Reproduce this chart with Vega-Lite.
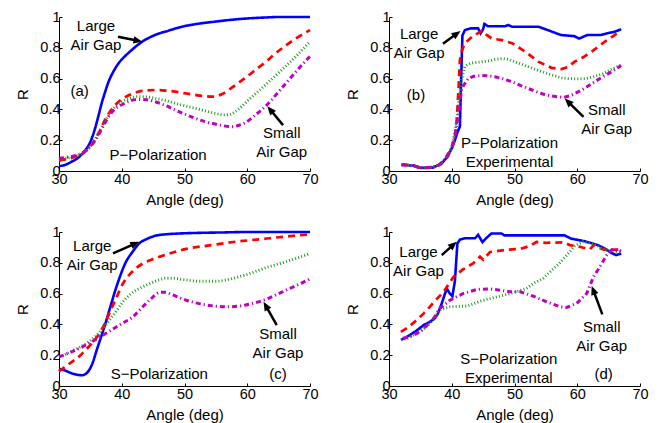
{
  "$schema": "https://vega.github.io/schema/vega-lite/v6.json",
  "padding": {"left": 15, "top": 9, "right": 5, "bottom": 5},
  "background": "white",
  "config": {
    "view": {"stroke": null},
    "font": "Liberation Sans",
    "axis": {
      "domainColor": "black", "domainWidth": 1, "tickColor": "black", "tickSize": -3, "tickWidth": 1,
      "grid": false, "labelFont": "Liberation Sans", "labelFontSize": 14.5, "labelColor": "black",
      "titleFont": "Liberation Sans", "titleFontSize": 15, "titleFontWeight": "normal", "titleColor": "black",
      "labelFlush": false, "labelOverlap": false
    }
  },
  "datasets": {
    "a": [
      {"s":"b","x":30,"R":0.032},{"s":"b","x":31,"R":0.04},{"s":"b","x":32,"R":0.06},{"s":"b","x":33,"R":0.085},{"s":"b","x":34,"R":0.125},{"s":"b","x":35,"R":0.19},{"s":"b","x":35.7,"R":0.27},{"s":"b","x":36.3,"R":0.36},{"s":"b","x":36.8,"R":0.44},{"s":"b","x":37.4,"R":0.52},{"s":"b","x":37.9,"R":0.58},{"s":"b","x":38.6,"R":0.64},{"s":"b","x":39.5,"R":0.7},{"s":"b","x":40.5,"R":0.745},{"s":"b","x":41.6,"R":0.786},{"s":"b","x":43.2,"R":0.838},{"s":"b","x":45.3,"R":0.883},{"s":"b","x":47.5,"R":0.912},{"s":"b","x":49.6,"R":0.937},{"s":"b","x":52,"R":0.955},{"s":"b","x":54.9,"R":0.97},{"s":"b","x":57.5,"R":0.982},{"s":"b","x":60.2,"R":0.991},{"s":"b","x":63,"R":0.997},{"s":"b","x":65,"R":1.0},{"s":"b","x":70,"R":1.0},
      {"s":"r","x":30,"R":0.067},{"s":"r","x":31,"R":0.075},{"s":"r","x":32,"R":0.085},{"s":"r","x":33,"R":0.1},{"s":"r","x":34,"R":0.12},{"s":"r","x":35,"R":0.16},{"s":"r","x":35.8,"R":0.21},{"s":"r","x":36.5,"R":0.26},{"s":"r","x":37.3,"R":0.33},{"s":"r","x":38.2,"R":0.39},{"s":"r","x":39,"R":0.43},{"s":"r","x":40,"R":0.465},{"s":"r","x":41.3,"R":0.495},{"s":"r","x":42.7,"R":0.515},{"s":"r","x":44,"R":0.523},{"s":"r","x":45.3,"R":0.526},{"s":"r","x":47,"R":0.522},{"s":"r","x":48.5,"R":0.515},{"s":"r","x":50,"R":0.505},{"s":"r","x":51.7,"R":0.494},{"s":"r","x":53,"R":0.487},{"s":"r","x":54.4,"R":0.483},{"s":"r","x":55.3,"R":0.488},{"s":"r","x":56,"R":0.5},{"s":"r","x":57,"R":0.525},{"s":"r","x":58.1,"R":0.558},{"s":"r","x":59.7,"R":0.605},{"s":"r","x":61.3,"R":0.656},{"s":"r","x":63,"R":0.71},{"s":"r","x":64.5,"R":0.764},{"s":"r","x":66,"R":0.81},{"s":"r","x":67.7,"R":0.86},{"s":"r","x":70,"R":0.915},
      {"s":"g","x":30,"R":0.075},{"s":"g","x":31,"R":0.08},{"s":"g","x":32,"R":0.09},{"s":"g","x":33,"R":0.1},{"s":"g","x":34,"R":0.12},{"s":"g","x":35,"R":0.16},{"s":"g","x":35.8,"R":0.21},{"s":"g","x":36.5,"R":0.26},{"s":"g","x":37.3,"R":0.32},{"s":"g","x":38.2,"R":0.38},{"s":"g","x":39,"R":0.42},{"s":"g","x":40,"R":0.45},{"s":"g","x":41.3,"R":0.472},{"s":"g","x":42.7,"R":0.483},{"s":"g","x":44,"R":0.481},{"s":"g","x":45.3,"R":0.472},{"s":"g","x":47,"R":0.457},{"s":"g","x":48.5,"R":0.44},{"s":"g","x":50,"R":0.424},{"s":"g","x":51.7,"R":0.407},{"s":"g","x":53.3,"R":0.39},{"s":"g","x":54.9,"R":0.374},{"s":"g","x":56.5,"R":0.364},{"s":"g","x":57.3,"R":0.368},{"s":"g","x":58.1,"R":0.385},{"s":"g","x":59,"R":0.415},{"s":"g","x":60.2,"R":0.461},{"s":"g","x":62.3,"R":0.537},{"s":"g","x":64,"R":0.6},{"s":"g","x":65.5,"R":0.656},{"s":"g","x":67.7,"R":0.742},{"s":"g","x":70,"R":0.84},
      {"s":"m","x":30,"R":0.082},{"s":"m","x":31,"R":0.088},{"s":"m","x":32,"R":0.095},{"s":"m","x":33,"R":0.105},{"s":"m","x":34,"R":0.125},{"s":"m","x":35,"R":0.16},{"s":"m","x":35.8,"R":0.2},{"s":"m","x":36.5,"R":0.25},{"s":"m","x":37.3,"R":0.31},{"s":"m","x":38.2,"R":0.37},{"s":"m","x":39,"R":0.405},{"s":"m","x":40,"R":0.43},{"s":"m","x":41.3,"R":0.455},{"s":"m","x":42.7,"R":0.465},{"s":"m","x":44,"R":0.463},{"s":"m","x":45.3,"R":0.45},{"s":"m","x":47,"R":0.425},{"s":"m","x":48.5,"R":0.396},{"s":"m","x":50,"R":0.37},{"s":"m","x":51.7,"R":0.342},{"s":"m","x":53.3,"R":0.32},{"s":"m","x":54.9,"R":0.305},{"s":"m","x":56.3,"R":0.293},{"s":"m","x":57.6,"R":0.288},{"s":"m","x":58.7,"R":0.297},{"s":"m","x":59.7,"R":0.314},{"s":"m","x":61.3,"R":0.364},{"s":"m","x":63.4,"R":0.44},{"s":"m","x":65,"R":0.515},{"s":"m","x":66.6,"R":0.59},{"s":"m","x":68.2,"R":0.665},{"s":"m","x":70,"R":0.745}
    ],
    "b": [
      {"s":"b","x":32,"R":0.04},{"s":"b","x":33,"R":0.037},{"s":"b","x":34,"R":0.035},{"s":"b","x":34.5,"R":0.025},{"s":"b","x":35,"R":0.02},{"s":"b","x":36,"R":0.02},{"s":"b","x":37,"R":0.022},{"s":"b","x":37.5,"R":0.032},{"s":"b","x":38.3,"R":0.045},{"s":"b","x":39.3,"R":0.09},{"s":"b","x":40.1,"R":0.155},{"s":"b","x":40.5,"R":0.2},{"s":"b","x":40.9,"R":0.25},{"s":"b","x":41.3,"R":0.29},{"s":"b","x":41.5,"R":0.6},{"s":"b","x":41.7,"R":0.88},{"s":"b","x":42.1,"R":0.915},{"s":"b","x":43,"R":0.926},{"s":"b","x":44.2,"R":0.926},{"s":"b","x":44.6,"R":0.894},{"s":"b","x":45,"R":0.92},{"s":"b","x":45.2,"R":0.955},{"s":"b","x":45.8,"R":0.94},{"s":"b","x":47,"R":0.94},{"s":"b","x":48.5,"R":0.94},{"s":"b","x":49,"R":0.948},{"s":"b","x":49.6,"R":0.937},{"s":"b","x":52,"R":0.937},{"s":"b","x":53.8,"R":0.937},{"s":"b","x":55.3,"R":0.915},{"s":"b","x":57.4,"R":0.883},{"s":"b","x":59.5,"R":0.876},{"s":"b","x":60.3,"R":0.86},{"s":"b","x":61.6,"R":0.883},{"s":"b","x":63.8,"R":0.883},{"s":"b","x":64.8,"R":0.894},{"s":"b","x":66,"R":0.905},{"s":"b","x":67,"R":0.92},
      {"s":"r","x":32,"R":0.043},{"s":"r","x":33,"R":0.04},{"s":"r","x":34,"R":0.033},{"s":"r","x":35,"R":0.022},{"s":"r","x":36,"R":0.022},{"s":"r","x":37,"R":0.025},{"s":"r","x":38,"R":0.04},{"s":"r","x":39,"R":0.08},{"s":"r","x":40,"R":0.15},{"s":"r","x":40.5,"R":0.22},{"s":"r","x":40.8,"R":0.33},{"s":"r","x":41.1,"R":0.55},{"s":"r","x":41.3,"R":0.72},{"s":"r","x":41.6,"R":0.78},{"s":"r","x":42.1,"R":0.83},{"s":"r","x":43.2,"R":0.87},{"s":"r","x":44.2,"R":0.895},{"s":"r","x":44.8,"R":0.91},{"s":"r","x":45.5,"R":0.885},{"s":"r","x":46.4,"R":0.86},{"s":"r","x":48,"R":0.85},{"s":"r","x":49.6,"R":0.83},{"s":"r","x":51.7,"R":0.775},{"s":"r","x":53.8,"R":0.71},{"s":"r","x":55.9,"R":0.67},{"s":"r","x":57.5,"R":0.662},{"s":"r","x":58.5,"R":0.675},{"s":"r","x":59.6,"R":0.71},{"s":"r","x":61,"R":0.74},{"s":"r","x":62.3,"R":0.775},{"s":"r","x":64.4,"R":0.84},{"s":"r","x":66.5,"R":0.898},{"s":"r","x":67,"R":0.905},
      {"s":"g","x":32,"R":0.04},{"s":"g","x":33,"R":0.037},{"s":"g","x":34,"R":0.033},{"s":"g","x":35,"R":0.022},{"s":"g","x":36,"R":0.022},{"s":"g","x":37,"R":0.025},{"s":"g","x":38,"R":0.04},{"s":"g","x":39,"R":0.08},{"s":"g","x":40,"R":0.15},{"s":"g","x":40.5,"R":0.25},{"s":"g","x":41,"R":0.4},{"s":"g","x":41.5,"R":0.58},{"s":"g","x":42.1,"R":0.68},{"s":"g","x":43,"R":0.7},{"s":"g","x":44,"R":0.705},{"s":"g","x":45,"R":0.71},{"s":"g","x":46,"R":0.715},{"s":"g","x":47,"R":0.725},{"s":"g","x":48,"R":0.73},{"s":"g","x":49,"R":0.725},{"s":"g","x":50,"R":0.71},{"s":"g","x":52,"R":0.68},{"s":"g","x":54,"R":0.65},{"s":"g","x":55.9,"R":0.624},{"s":"g","x":57.5,"R":0.605},{"s":"g","x":58.6,"R":0.6},{"s":"g","x":60,"R":0.598},{"s":"g","x":61.3,"R":0.6},{"s":"g","x":62.5,"R":0.61},{"s":"g","x":64,"R":0.63},{"s":"g","x":65.5,"R":0.66},{"s":"g","x":67,"R":0.688},
      {"s":"m","x":32,"R":0.04},{"s":"m","x":33,"R":0.037},{"s":"m","x":34,"R":0.033},{"s":"m","x":35,"R":0.022},{"s":"m","x":36,"R":0.022},{"s":"m","x":37,"R":0.025},{"s":"m","x":38,"R":0.04},{"s":"m","x":39,"R":0.08},{"s":"m","x":40,"R":0.15},{"s":"m","x":40.5,"R":0.23},{"s":"m","x":41,"R":0.35},{"s":"m","x":41.6,"R":0.537},{"s":"m","x":42.6,"R":0.6},{"s":"m","x":43.5,"R":0.615},{"s":"m","x":44.8,"R":0.62},{"s":"m","x":46,"R":0.618},{"s":"m","x":46.9,"R":0.612},{"s":"m","x":48,"R":0.6},{"s":"m","x":49.6,"R":0.58},{"s":"m","x":51,"R":0.555},{"s":"m","x":52.8,"R":0.526},{"s":"m","x":54.5,"R":0.5},{"s":"m","x":55.9,"R":0.487},{"s":"m","x":57.8,"R":0.478},{"s":"m","x":59,"R":0.49},{"s":"m","x":60.2,"R":0.515},{"s":"m","x":61.5,"R":0.545},{"s":"m","x":62.8,"R":0.58},{"s":"m","x":64,"R":0.61},{"s":"m","x":65.5,"R":0.645},{"s":"m","x":67,"R":0.685}
    ],
    "c": [
      {"s":"b","x":30,"R":0.112},{"s":"b","x":31,"R":0.1},{"s":"b","x":32,"R":0.083},{"s":"b","x":33,"R":0.072},{"s":"b","x":33.7,"R":0.07},{"s":"b","x":34.3,"R":0.08},{"s":"b","x":34.9,"R":0.11},{"s":"b","x":35.4,"R":0.155},{"s":"b","x":36,"R":0.232},{"s":"b","x":36.8,"R":0.33},{"s":"b","x":37.5,"R":0.42},{"s":"b","x":38.3,"R":0.53},{"s":"b","x":39,"R":0.625},{"s":"b","x":39.8,"R":0.72},{"s":"b","x":40.6,"R":0.8},{"s":"b","x":41.7,"R":0.87},{"s":"b","x":42.8,"R":0.926},{"s":"b","x":44,"R":0.955},{"s":"b","x":45.4,"R":0.976},{"s":"b","x":47,"R":0.985},{"s":"b","x":49,"R":0.99},{"s":"b","x":52,"R":0.994},{"s":"b","x":56,"R":0.997},{"s":"b","x":60,"R":1.0},{"s":"b","x":70,"R":1.0},
      {"s":"r","x":30,"R":0.095},{"s":"r","x":31,"R":0.125},{"s":"r","x":32,"R":0.155},{"s":"r","x":33.3,"R":0.195},{"s":"r","x":34.5,"R":0.245},{"s":"r","x":35.5,"R":0.29},{"s":"r","x":36.5,"R":0.345},{"s":"r","x":37.3,"R":0.405},{"s":"r","x":38.1,"R":0.48},{"s":"r","x":39,"R":0.56},{"s":"r","x":40.2,"R":0.666},{"s":"r","x":41.5,"R":0.735},{"s":"r","x":43.4,"R":0.796},{"s":"r","x":44.7,"R":0.82},{"s":"r","x":46.1,"R":0.84},{"s":"r","x":48,"R":0.865},{"s":"r","x":50.3,"R":0.89},{"s":"r","x":54,"R":0.913},{"s":"r","x":57.8,"R":0.935},{"s":"r","x":62,"R":0.953},{"s":"r","x":66,"R":0.97},{"s":"r","x":70,"R":0.985},
      {"s":"g","x":30,"R":0.19},{"s":"g","x":31,"R":0.205},{"s":"g","x":32,"R":0.225},{"s":"g","x":33,"R":0.245},{"s":"g","x":34,"R":0.268},{"s":"g","x":35,"R":0.295},{"s":"g","x":36,"R":0.33},{"s":"g","x":37,"R":0.375},{"s":"g","x":38,"R":0.425},{"s":"g","x":39,"R":0.48},{"s":"g","x":40.2,"R":0.547},{"s":"g","x":41.5,"R":0.6},{"s":"g","x":42.9,"R":0.635},{"s":"g","x":44.5,"R":0.665},{"s":"g","x":46,"R":0.69},{"s":"g","x":47,"R":0.7},{"s":"g","x":48,"R":0.7},{"s":"g","x":50,"R":0.69},{"s":"g","x":52.4,"R":0.68},{"s":"g","x":55,"R":0.68},{"s":"g","x":57.8,"R":0.7},{"s":"g","x":60,"R":0.725},{"s":"g","x":63.5,"R":0.775},{"s":"g","x":66,"R":0.805},{"s":"g","x":70,"R":0.86},
      {"s":"m","x":30,"R":0.19},{"s":"m","x":31,"R":0.205},{"s":"m","x":32,"R":0.222},{"s":"m","x":33,"R":0.24},{"s":"m","x":34,"R":0.26},{"s":"m","x":35,"R":0.282},{"s":"m","x":36,"R":0.305},{"s":"m","x":37,"R":0.33},{"s":"m","x":38,"R":0.355},{"s":"m","x":39,"R":0.38},{"s":"m","x":40,"R":0.405},{"s":"m","x":41.8,"R":0.45},{"s":"m","x":43,"R":0.5},{"s":"m","x":44.5,"R":0.56},{"s":"m","x":46.1,"R":0.608},{"s":"m","x":47,"R":0.608},{"s":"m","x":48,"R":0.593},{"s":"m","x":50.3,"R":0.557},{"s":"m","x":52,"R":0.538},{"s":"m","x":54,"R":0.523},{"s":"m","x":56.7,"R":0.514},{"s":"m","x":59,"R":0.52},{"s":"m","x":61,"R":0.538},{"s":"m","x":62.6,"R":0.557},{"s":"m","x":64.5,"R":0.59},{"s":"m","x":66.5,"R":0.628},{"s":"m","x":68.5,"R":0.665},{"s":"m","x":70,"R":0.696}
    ],
    "d": [
      {"s":"b","x":31.9,"R":0.3},{"s":"b","x":32.5,"R":0.31},{"s":"b","x":33.3,"R":0.33},{"s":"b","x":34.4,"R":0.36},{"s":"b","x":35.5,"R":0.395},{"s":"b","x":36.5,"R":0.416},{"s":"b","x":37.3,"R":0.44},{"s":"b","x":37.8,"R":0.47},{"s":"b","x":38.4,"R":0.536},{"s":"b","x":39.2,"R":0.633},{"s":"b","x":39.7,"R":0.6},{"s":"b","x":40.1,"R":0.583},{"s":"b","x":40.5,"R":0.68},{"s":"b","x":40.9,"R":0.926},{"s":"b","x":41.3,"R":0.95},{"s":"b","x":42.1,"R":0.959},{"s":"b","x":43.7,"R":0.959},{"s":"b","x":44.2,"R":0.982},{"s":"b","x":44.9,"R":0.934},{"s":"b","x":45.5,"R":0.96},{"s":"b","x":46.3,"R":0.99},{"s":"b","x":47.9,"R":0.99},{"s":"b","x":48.4,"R":0.978},{"s":"b","x":53,"R":0.978},{"s":"b","x":58,"R":0.978},{"s":"b","x":59,"R":0.957},{"s":"b","x":61.2,"R":0.94},{"s":"b","x":63.3,"R":0.915},{"s":"b","x":64.5,"R":0.89},{"s":"b","x":65.4,"R":0.865},{"s":"b","x":66.2,"R":0.85},{"s":"b","x":67,"R":0.86},
      {"s":"r","x":31.9,"R":0.351},{"s":"r","x":33,"R":0.38},{"s":"r","x":34.4,"R":0.427},{"s":"r","x":35.5,"R":0.47},{"s":"r","x":36.5,"R":0.514},{"s":"r","x":37.5,"R":0.56},{"s":"r","x":38.7,"R":0.612},{"s":"r","x":39.5,"R":0.66},{"s":"r","x":40.3,"R":0.71},{"s":"r","x":41.8,"R":0.757},{"s":"r","x":43.4,"R":0.796},{"s":"r","x":44.5,"R":0.84},{"s":"r","x":45,"R":0.82},{"s":"r","x":46.1,"R":0.87},{"s":"r","x":48.8,"R":0.885},{"s":"r","x":50.9,"R":0.89},{"s":"r","x":52.5,"R":0.91},{"s":"r","x":53.5,"R":0.935},{"s":"r","x":55.1,"R":0.93},{"s":"r","x":57.8,"R":0.933},{"s":"r","x":58.8,"R":0.915},{"s":"r","x":60.4,"R":0.904},{"s":"r","x":62,"R":0.887},{"s":"r","x":62.6,"R":0.915},{"s":"r","x":64.2,"R":0.885},{"s":"r","x":67,"R":0.885},
      {"s":"g","x":31.9,"R":0.3},{"s":"g","x":33,"R":0.31},{"s":"g","x":34.4,"R":0.34},{"s":"g","x":35.5,"R":0.37},{"s":"g","x":36.5,"R":0.406},{"s":"g","x":37.3,"R":0.44},{"s":"g","x":37.9,"R":0.49},{"s":"g","x":38.5,"R":0.5},{"s":"g","x":39.7,"R":0.514},{"s":"g","x":42.6,"R":0.52},{"s":"g","x":44.5,"R":0.55},{"s":"g","x":46.1,"R":0.568},{"s":"g","x":47.9,"R":0.585},{"s":"g","x":49.3,"R":0.6},{"s":"g","x":51.9,"R":0.633},{"s":"g","x":53.2,"R":0.67},{"s":"g","x":54.6,"R":0.7},{"s":"g","x":55.9,"R":0.75},{"s":"g","x":57,"R":0.79},{"s":"g","x":58,"R":0.834},{"s":"g","x":59,"R":0.88},{"s":"g","x":59.6,"R":0.91},{"s":"g","x":60.9,"R":0.937},{"s":"g","x":62.6,"R":0.926},{"s":"g","x":64.2,"R":0.887},{"s":"g","x":65.5,"R":0.875},{"s":"g","x":67,"R":0.872},
      {"s":"m","x":32.2,"R":0.31},{"s":"m","x":33.3,"R":0.32},{"s":"m","x":34.9,"R":0.35},{"s":"m","x":36.5,"R":0.41},{"s":"m","x":37.3,"R":0.45},{"s":"m","x":38.1,"R":0.503},{"s":"m","x":39.7,"R":0.557},{"s":"m","x":41.8,"R":0.6},{"s":"m","x":44,"R":0.627},{"s":"m","x":46.1,"R":0.63},{"s":"m","x":47.7,"R":0.622},{"s":"m","x":49.3,"R":0.612},{"s":"m","x":50.9,"R":0.612},{"s":"m","x":53,"R":0.583},{"s":"m","x":55.1,"R":0.547},{"s":"m","x":57.3,"R":0.514},{"s":"m","x":58.3,"R":0.51},{"s":"m","x":59.9,"R":0.536},{"s":"m","x":61.5,"R":0.6},{"s":"m","x":62.6,"R":0.71},{"s":"m","x":63.6,"R":0.774},{"s":"m","x":64.7,"R":0.85},{"s":"m","x":65.5,"R":0.885},{"s":"m","x":67,"R":0.88}
    ],
    "arrows": [
      {"p":"a","tx":39.4,"tR":0.872,"x":43.3,"R":0.84},
      {"p":"a","tx":65.7,"tR":0.298,"x":63.2,"R":0.421},
      {"p":"b","tx":38.6,"tR":0.827,"x":41.4,"R":0.909},
      {"p":"b","tx":61.0,"tR":0.352,"x":58.0,"R":0.471},
      {"p":"c","tx":38.6,"tR":0.861,"x":42.8,"R":0.937},
      {"p":"c","tx":64.7,"tR":0.395,"x":62.6,"R":0.547},
      {"p":"d","tx":38.4,"tR":0.85,"x":40.8,"R":0.937},
      {"p":"d","tx":64.0,"tR":0.465,"x":62.3,"R":0.65}
    ],
    "notes": [
      {"p":"a","x":35.9,"R":0.94,"t":["Large","Air Gap"]},
      {"p":"a","x":65.5,"R":0.248,"t":["Small","Air Gap"]},
      {"p":"a","x":33.3,"R":0.518,"t":"(a)"},
      {"p":"a","x":45.8,"R":0.104,"t":"P−Polarization"},
      {"p":"b","x":34.8,"R":0.888,"t":["Large","Air Gap"]},
      {"p":"b","x":64.7,"R":0.395,"t":["Small","Air Gap"]},
      {"p":"b","x":34.3,"R":0.492,"t":"(b)"},
      {"p":"b","x":49.2,"R":0.179,"t":["P−Polarization","Experimental"]},
      {"p":"c","x":35.3,"R":0.909,"t":["Large","Air Gap"]},
      {"p":"c","x":64.9,"R":0.34,"t":["Small","Air Gap"]},
      {"p":"c","x":46.0,"R":0.08,"t":"S−Polarization"},
      {"p":"c","x":64.9,"R":0.08,"t":"(c)"},
      {"p":"d","x":34.7,"R":0.872,"t":["Large","Air Gap"]},
      {"p":"d","x":63.9,"R":0.384,"t":["Small","Air Gap"]},
      {"p":"d","x":49.1,"R":0.178,"t":["S−Polarization","Experimental"]},
      {"p":"d","x":64.2,"R":0.08,"t":"(d)"}
    ]
  },
  "columns": 2,
  "spacing": {"row": 61, "column": 79},
  "bounds": "flush",
  "concat": [
      {"width": 251, "height": 154,
       "encoding": {
         "x": {"field": "x", "type": "quantitative", "scale": {"domain": [30, 70], "nice": false}, "axis": {"title": "Angle (deg)", "values": [30,40,50,60,70], "titlePadding": 6.5, "labelPadding": 4, "labelOverlap": false}},
         "y": {"field": "R", "type": "quantitative", "scale": {"domain": [0, 1], "nice": false}, "axis": {"title": "R", "values": [0,0.2,0.4,0.6,0.8,1], "format": "~g", "titlePadding": 9, "labelPadding": 2, "labelOverlap": false}}
       },
       "layer": [
        {"data": {"name": "a"}, "mark": {"type": "line", "interpolate": "monotone"},
         "encoding": {
           "color": {"field": "s", "type": "nominal", "scale": {"domain": ["b","r","g","m"], "range": ["#0000ff","#ff0000","#1f9a1f","#bf00bf"]}, "legend": null},
           "strokeDash": {"field": "s", "type": "nominal", "scale": {"domain": ["b","r","g","m"], "range": [[1,0],[7,5],[1,2.2],[5,3,1.2,3]]}, "legend": null},
           "strokeWidth": {"field": "s", "type": "nominal", "scale": {"domain": ["b","r","g","m"], "range": [2.6,3,1.3,3]}, "legend": null}
         }},
        {"data": {"name": "arrows"}, "transform": [{"filter": "datum.p == 'a'"}, {"calculate": "(datum.x-datum.tx)*6.275", "as": "dx"}, {"calculate": "(datum.R-datum.tR)*154", "as": "dy"}, {"calculate": "7/sqrt(datum.dx*datum.dx+datum.dy*datum.dy)", "as": "f"}, {"calculate": "datum.x-(datum.x-datum.tx)*datum.f", "as": "bx"}, {"calculate": "datum.R-(datum.R-datum.tR)*datum.f", "as": "bR"}, {"calculate": "datum.bx", "as": "x"}, {"calculate": "datum.bR", "as": "R"}],
         "mark": {"type": "rule", "color": "black", "strokeWidth": 2.5},
         "encoding": {"x2": {"field": "tx"}, "y2": {"field": "tR"}}},
        {"data": {"name": "arrows"}, "transform": [{"filter": "datum.p == 'a'"}, {"calculate": "atan2((datum.x-datum.tx)*6.275, (datum.R-datum.tR)*154)*180/PI", "as": "ang"}],
         "mark": {"type": "point", "shape": "M0,0L-0.42,1L0.42,1Z", "filled": true, "color": "black", "opacity": 1, "size": 324},
         "encoding": {"angle": {"field": "ang", "type": "quantitative", "scale": null}}},
        {"data": {"name": "notes"}, "transform": [{"filter": "datum.p == 'a'"}],
         "mark": {"type": "text", "font": "Liberation Sans", "fontSize": 15, "lineHeight": 19, "color": "black", "align": "center", "baseline": "middle"},
         "encoding": {"text": {"field": "t"}}}
      ]},
      {"width": 251, "height": 154,
       "encoding": {
         "x": {"field": "x", "type": "quantitative", "scale": {"domain": [30, 70], "nice": false}, "axis": {"title": "Angle (deg)", "values": [30,40,50,60,70], "titlePadding": 6.5, "labelPadding": 4, "labelOverlap": false}},
         "y": {"field": "R", "type": "quantitative", "scale": {"domain": [0, 1], "nice": false}, "axis": {"title": "R", "values": [0,0.2,0.4,0.6,0.8,1], "format": "~g", "titlePadding": 9, "labelPadding": 2, "labelOverlap": false}}
       },
       "layer": [
        {"data": {"name": "b"}, "mark": {"type": "line"},
         "encoding": {
           "color": {"field": "s", "type": "nominal", "scale": {"domain": ["b","r","g","m"], "range": ["#0000ff","#ff0000","#1f9a1f","#bf00bf"]}, "legend": null},
           "strokeDash": {"field": "s", "type": "nominal", "scale": {"domain": ["b","r","g","m"], "range": [[1,0],[7,5],[1,2.2],[5,3,1.2,3]]}, "legend": null},
           "strokeWidth": {"field": "s", "type": "nominal", "scale": {"domain": ["b","r","g","m"], "range": [2.6,3,1.3,3]}, "legend": null}
         }},
        {"data": {"name": "arrows"}, "transform": [{"filter": "datum.p == 'b'"}, {"calculate": "(datum.x-datum.tx)*6.275", "as": "dx"}, {"calculate": "(datum.R-datum.tR)*154", "as": "dy"}, {"calculate": "7/sqrt(datum.dx*datum.dx+datum.dy*datum.dy)", "as": "f"}, {"calculate": "datum.x-(datum.x-datum.tx)*datum.f", "as": "bx"}, {"calculate": "datum.R-(datum.R-datum.tR)*datum.f", "as": "bR"}, {"calculate": "datum.bx", "as": "x"}, {"calculate": "datum.bR", "as": "R"}],
         "mark": {"type": "rule", "color": "black", "strokeWidth": 2.5},
         "encoding": {"x2": {"field": "tx"}, "y2": {"field": "tR"}}},
        {"data": {"name": "arrows"}, "transform": [{"filter": "datum.p == 'b'"}, {"calculate": "atan2((datum.x-datum.tx)*6.275, (datum.R-datum.tR)*154)*180/PI", "as": "ang"}],
         "mark": {"type": "point", "shape": "M0,0L-0.42,1L0.42,1Z", "filled": true, "color": "black", "opacity": 1, "size": 324},
         "encoding": {"angle": {"field": "ang", "type": "quantitative", "scale": null}}},
        {"data": {"name": "notes"}, "transform": [{"filter": "datum.p == 'b'"}],
         "mark": {"type": "text", "font": "Liberation Sans", "fontSize": 15, "lineHeight": 19, "color": "black", "align": "center", "baseline": "middle"},
         "encoding": {"text": {"field": "t"}}}
      ]},
      {"width": 251, "height": 154,
       "encoding": {
         "x": {"field": "x", "type": "quantitative", "scale": {"domain": [30, 70], "nice": false}, "axis": {"title": "Angle (deg)", "values": [30,40,50,60,70], "titlePadding": 6.5, "labelPadding": 4, "labelOverlap": false}},
         "y": {"field": "R", "type": "quantitative", "scale": {"domain": [0, 1], "nice": false}, "axis": {"title": "R", "values": [0,0.2,0.4,0.6,0.8,1], "format": "~g", "titlePadding": 9, "labelPadding": 2, "labelOverlap": false}}
       },
       "layer": [
        {"data": {"name": "c"}, "mark": {"type": "line", "interpolate": "monotone"},
         "encoding": {
           "color": {"field": "s", "type": "nominal", "scale": {"domain": ["b","r","g","m"], "range": ["#0000ff","#ff0000","#1f9a1f","#bf00bf"]}, "legend": null},
           "strokeDash": {"field": "s", "type": "nominal", "scale": {"domain": ["b","r","g","m"], "range": [[1,0],[7,5],[1,2.2],[5,3,1.2,3]]}, "legend": null},
           "strokeWidth": {"field": "s", "type": "nominal", "scale": {"domain": ["b","r","g","m"], "range": [2.6,3,1.3,3]}, "legend": null}
         }},
        {"data": {"name": "arrows"}, "transform": [{"filter": "datum.p == 'c'"}, {"calculate": "(datum.x-datum.tx)*6.275", "as": "dx"}, {"calculate": "(datum.R-datum.tR)*154", "as": "dy"}, {"calculate": "7/sqrt(datum.dx*datum.dx+datum.dy*datum.dy)", "as": "f"}, {"calculate": "datum.x-(datum.x-datum.tx)*datum.f", "as": "bx"}, {"calculate": "datum.R-(datum.R-datum.tR)*datum.f", "as": "bR"}, {"calculate": "datum.bx", "as": "x"}, {"calculate": "datum.bR", "as": "R"}],
         "mark": {"type": "rule", "color": "black", "strokeWidth": 2.5},
         "encoding": {"x2": {"field": "tx"}, "y2": {"field": "tR"}}},
        {"data": {"name": "arrows"}, "transform": [{"filter": "datum.p == 'c'"}, {"calculate": "atan2((datum.x-datum.tx)*6.275, (datum.R-datum.tR)*154)*180/PI", "as": "ang"}],
         "mark": {"type": "point", "shape": "M0,0L-0.42,1L0.42,1Z", "filled": true, "color": "black", "opacity": 1, "size": 324},
         "encoding": {"angle": {"field": "ang", "type": "quantitative", "scale": null}}},
        {"data": {"name": "notes"}, "transform": [{"filter": "datum.p == 'c'"}],
         "mark": {"type": "text", "font": "Liberation Sans", "fontSize": 15, "lineHeight": 19, "color": "black", "align": "center", "baseline": "middle"},
         "encoding": {"text": {"field": "t"}}}
      ]},
      {"width": 251, "height": 154,
       "encoding": {
         "x": {"field": "x", "type": "quantitative", "scale": {"domain": [30, 70], "nice": false}, "axis": {"title": "Angle (deg)", "values": [30,40,50,60,70], "titlePadding": 6.5, "labelPadding": 4, "labelOverlap": false}},
         "y": {"field": "R", "type": "quantitative", "scale": {"domain": [0, 1], "nice": false}, "axis": {"title": "R", "values": [0,0.2,0.4,0.6,0.8,1], "format": "~g", "titlePadding": 9, "labelPadding": 2, "labelOverlap": false}}
       },
       "layer": [
        {"data": {"name": "d"}, "mark": {"type": "line"},
         "encoding": {
           "color": {"field": "s", "type": "nominal", "scale": {"domain": ["b","r","g","m"], "range": ["#0000ff","#ff0000","#1f9a1f","#bf00bf"]}, "legend": null},
           "strokeDash": {"field": "s", "type": "nominal", "scale": {"domain": ["b","r","g","m"], "range": [[1,0],[7,5],[1,2.2],[5,3,1.2,3]]}, "legend": null},
           "strokeWidth": {"field": "s", "type": "nominal", "scale": {"domain": ["b","r","g","m"], "range": [2.6,3,1.3,3]}, "legend": null}
         }},
        {"data": {"name": "arrows"}, "transform": [{"filter": "datum.p == 'd'"}, {"calculate": "(datum.x-datum.tx)*6.275", "as": "dx"}, {"calculate": "(datum.R-datum.tR)*154", "as": "dy"}, {"calculate": "7/sqrt(datum.dx*datum.dx+datum.dy*datum.dy)", "as": "f"}, {"calculate": "datum.x-(datum.x-datum.tx)*datum.f", "as": "bx"}, {"calculate": "datum.R-(datum.R-datum.tR)*datum.f", "as": "bR"}, {"calculate": "datum.bx", "as": "x"}, {"calculate": "datum.bR", "as": "R"}],
         "mark": {"type": "rule", "color": "black", "strokeWidth": 2.5},
         "encoding": {"x2": {"field": "tx"}, "y2": {"field": "tR"}}},
        {"data": {"name": "arrows"}, "transform": [{"filter": "datum.p == 'd'"}, {"calculate": "atan2((datum.x-datum.tx)*6.275, (datum.R-datum.tR)*154)*180/PI", "as": "ang"}],
         "mark": {"type": "point", "shape": "M0,0L-0.42,1L0.42,1Z", "filled": true, "color": "black", "opacity": 1, "size": 324},
         "encoding": {"angle": {"field": "ang", "type": "quantitative", "scale": null}}},
        {"data": {"name": "notes"}, "transform": [{"filter": "datum.p == 'd'"}],
         "mark": {"type": "text", "font": "Liberation Sans", "fontSize": 15, "lineHeight": 19, "color": "black", "align": "center", "baseline": "middle"},
         "encoding": {"text": {"field": "t"}}}
      ]}
  ]
}
